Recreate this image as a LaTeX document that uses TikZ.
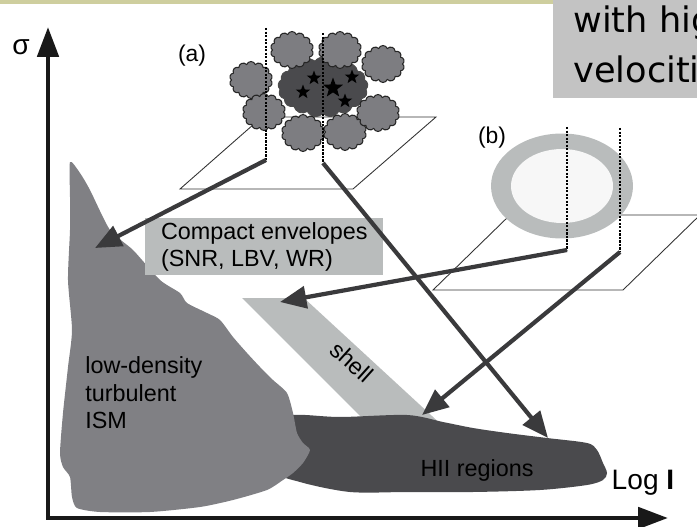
\documentclass[tikz,border=0pt]{standalone}
\usepackage{fontspec}
\setmainfont{Liberation Sans}
\newfontfamily\slidefont{DejaVu Sans}
\usetikzlibrary{arrows.meta,shapes.symbols,shapes.geometric}

\definecolor{bandolive}{RGB}{206,206,158}
\definecolor{notegray}{RGB}{195,195,195}
\definecolor{ismgray}{RGB}{128,128,132}
\definecolor{hiigray}{RGB}{74,74,77}
\definecolor{shellgray}{RGB}{185,188,188}
\definecolor{ringwhite}{RGB}{247,247,247}
\definecolor{arrowgray}{RGB}{58,58,60}
\definecolor{puffgray}{RGB}{125,125,129}

\begin{document}
\begin{tikzpicture}[x=0.02cm,y=-0.02cm,
    lbl/.style={font=\fontsize{13.3}{15.6}\selectfont, inner sep=0pt},
    tag/.style={font=\fontsize{13}{15}\selectfont, inner sep=0pt},
    plane/.style={draw=black!80, line width=0.5pt},
    sightline/.style={black, line width=1.7pt, dash pattern=on 1.2pt off 0.8pt},
    flow/.style={draw=arrowgray, line width=2.4pt, -{Triangle[length=15pt,width=12.5pt]}},
    axis/.style={line width=2.6pt, black!90, line join=miter},
    puff/.style={cloud, cloud puffs=14, cloud puff arc=140, cloud ignores aspect,
        draw=black!85, line width=0.6pt, fill=puffgray, inner sep=0pt,
        minimum width=0.86cm, minimum height=0.74cm},
    starmark/.style={star, star points=5, star point ratio=2.4, fill=black, inner sep=0pt}
]
\useasboundingbox (0,0) rectangle (697,527);
\clip (0,0) rectangle (697,527);

% slide header strip and the cut-off note box
\fill[bandolive] (0,0) rectangle (553,4);
\fill[notegray] (553,0) rectangle (700,98);
\node[anchor=base west, inner sep=0pt, font=\slidefont\fontsize{20}{24}\selectfont] (noteA) at (573,33) {with high};
\node[anchor=base west, inner sep=0pt, font=\slidefont\fontsize{20}{24}\selectfont] (noteB) at (573,83) {velocities};

% regions in the plane
\fill[shellgray] (242,298) -- (304,298) -- (445,428) -- (372,428) -- cycle;
\fill[hiigray] plot[smooth cycle, tension=0.5] coordinates {
    (270,425) (293,415) (340,417) (407,415) (443,422) (473,428) (507,433)
    (547,438) (587,443) (597,450) (603,463) (607,473) (603,480) (587,485)
    (540,490) (473,492) (407,492) (350,492) (300,482) (275,470)};
\fill[ismgray] plot[smooth cycle, tension=0.4] coordinates {
    (70,162) (80,173) (90,190) (110,230) (133,250) (160,280) (180,293)
    (187,303) (207,313) (220,320) (233,337) (247,353) (260,367) (273,380)
    (287,393) (293,413) (297,433) (303,443) (310,450) (303,463) (293,473)
    (283,480) (267,490) (233,500) (200,507) (150,512) (100,512) (77,508)
    (72,497) (70,477) (63,467) (60,453) (63,413) (68,367) (72,330)
    (68,280) (70,230) (70,197)};

\node[lbl, fill=shellgray, anchor=north west, minimum height=1.14cm,
    minimum width=4.76cm, align=left] (envbox) at (145,218)
    {Compact envelopes\\(SNR, LBV, WR)};
\node[lbl, align=left, anchor=west] (ism) at (85,393) {low-density\\turbulent\\ISM};
\node[lbl, rotate=-42] (shell) at (352,362) {shell};
\node[lbl] (hii) at (477,470) {HII regions};

% case (a): cluster with clouds above its plane
\draw[plane] (180,189) -- (353,189) -- (436,117) -- (262,117) -- cycle;
\node[cloud, cloud puffs=17, cloud puff arc=110, cloud ignores aspect, draw=black!70,
    line width=0.5pt, fill=hiigray, inner sep=0pt, minimum width=1.8cm,
    minimum height=1.2cm] (core) at (323,87) {};
\foreach \cx/\cy [count=\i] in {292/50, 340/50, 383/64, 251/80, 264/112, 303/133, 345/132, 378/113}
    \node[puff] (cl\i) at (\cx,\cy) {};
\foreach \sx/\sy/\ss in {314/78/0.3, 303/92/0.3, 333/88/0.42, 352/77/0.3, 345/101/0.3}
    \node[starmark, minimum size=\ss cm] at (\sx,\sy) {};
\node[tag] (tagA) at (192,56) {(a)};

% case (b): expanding ring above its plane
\draw[plane] (433,290) -- (623,290) -- (700,215) -- (510,215) -- cycle;
\fill[shellgray] (562,186) ellipse [x radius=1.42cm, y radius=1.05cm];
\fill[ringwhite] (562,186) ellipse [x radius=1.02cm, y radius=0.74cm];
\node[tag] (tagB) at (492,138) {(b)};

% lines of sight
\coordinate (aL1) at (266,28);  \coordinate (aL2) at (266,160);
\coordinate (aR1) at (323,33);  \coordinate (aR2) at (323,163);
\coordinate (bL1) at (567,127); \coordinate (bL2) at (567,250);
\coordinate (bR1) at (620,128); \coordinate (bR2) at (620,252);
\foreach \p in {aL,aR,bL,bR}
    \draw[sightline] (\p1) -- (\p2);

% where each sight line ends up
\coordinate (ismT) at (95,248);
\coordinate (hiiT) at (548,438);
\coordinate (shellT) at (280,302);
\coordinate (shellB) at (422,415);
\draw[flow] (aL2) -- (ismT);
\draw[flow] (aR2) -- (hiiT);
\draw[flow] (bL2) -- (shellT);
\draw[flow] (bR2) -- (shellB);

% axes
\coordinate (origin) at (48,518);
\coordinate (sigmaEnd) at (48,27);
\coordinate (logEnd) at (668,518);
\draw[axis, {Triangle[length=17pt,width=12pt]}-{Triangle[length=17pt,width=12pt]}]
    (sigmaEnd) -- (origin) -- (logEnd);
\node[font=\fontsize{16}{18}\selectfont, inner sep=0pt] (sigma) at (21,47) {σ};
\node[font=\fontsize{16}{18}\selectfont, inner sep=0pt] (logI) at (643,483) {Log \textbf{I}};
\end{tikzpicture}
\end{document}
